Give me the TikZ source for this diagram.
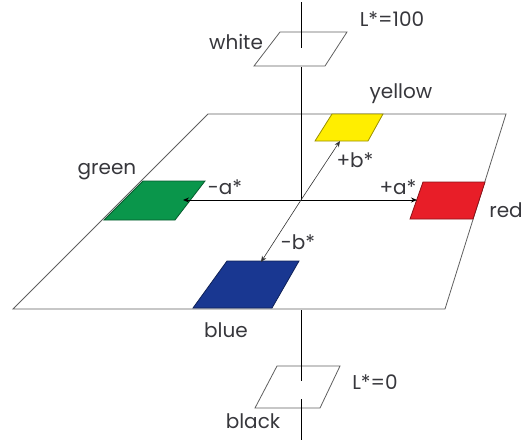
\documentclass[tikz,border=0pt]{standalone}
\usepackage{fontspec}
\setmainfont{Poppins}
\usepackage{tikz}
\usetikzlibrary{arrows.meta, calc}
\definecolor{planegray}{RGB}{95, 95, 95}
\definecolor{txtgray}{RGB}{55, 55, 60}
\definecolor{labgreen}{RGB}{10, 150, 75}
\definecolor{labyellow}{RGB}{255, 238, 0}
\definecolor{labred}{RGB}{232, 30, 40}
\definecolor{labblue}{RGB}{25, 55, 145}

\begin{document}
\begin{tikzpicture}[
    x=1pt, y=-1pt,
    font=\fontsize{20}{24}\selectfont,
    plane/.style={draw=planegray, line width=0.8pt, line join=miter},
    patch/.style={draw=#1!60!black, line width=0.8pt, fill=#1},
    axis/.style={black, line width=0.9pt},
    axisarr/.style={-{Stealth[length=6pt, width=5pt]}, black, line width=0.9pt},
    diagarr/.style={-{Stealth[length=6pt, width=5pt]}, black!80, line width=0.6pt},
    lab/.style={text=txtgray, inner sep=0pt},
]
\useasboundingbox (0,0) rectangle (524,442);

% --- a*/b* plane (L*=50) ---
\draw[plane] (208,114) -- (506,114) -- (445,309) -- (13,309) -- cycle;

% --- colour patches on the plane ---
\draw[patch=labyellow] (332,114) -- (383,114) -- (368,141) -- (315,141) -- cycle;
\draw[patch=labgreen] (143,181) -- (205,181) -- (175,220) -- (104,220) -- cycle;
\draw[patch=labred] (423,182) -- (485,182) -- (473,219) -- (410,219) -- cycle;
\draw[patch=labblue] (227,261) -- (299,261) -- (272,308) -- (193,308) -- cycle;

% --- white and black planes ---
\draw[plane] (280,32) -- (347,32) -- (325,66) -- (254,66) -- cycle;
\draw[plane] (277,366) -- (340,366) -- (320,408) -- (255,408) -- cycle;

% --- L* axis (broken where it passes behind) ---
\coordinate (o) at (301,200);
\draw[axis] (301,2) -- (301,48);
\draw[axis] (301,67) -- (o);
\draw[axis] (301,310) -- (301,381);
\draw[axis] (301,399) -- (301,440);

% --- a* and b* axes ---
\coordinate (ga) at (183,200);
\coordinate (ra) at (417,200);
\coordinate (yb) at (340,141);
\coordinate (bb) at (261,262);
\draw[axisarr] (o) -- (ga);
\draw[axisarr] (o) -- (ra);
\draw[diagarr] (o) -- (yb);
\draw[diagarr] (o) -- (bb);

% --- labels ---
\node[lab] (white) at (236,42) {white};
\node[lab] (lhi) at (392,19) {L*=100};
\node[lab] (yellow) at (401,94) {yellow};
\node[lab] (green) at (107,172) {green};
\node[lab] (ma) at (225,187) {-a*};
\node[lab] (pb) at (355,160) {+b*};
\node[lab] (pa) at (398,187) {+a*};
\node[lab] (red) at (506,210) {red};
\node[lab] (mb) at (298,242) {-b*};
\node[lab] (blue) at (226,330) {blue};
\node[lab] (llo) at (375,382) {L*=0};
\node[lab] (black) at (253,421) {black};

\end{tikzpicture}
\end{document}
